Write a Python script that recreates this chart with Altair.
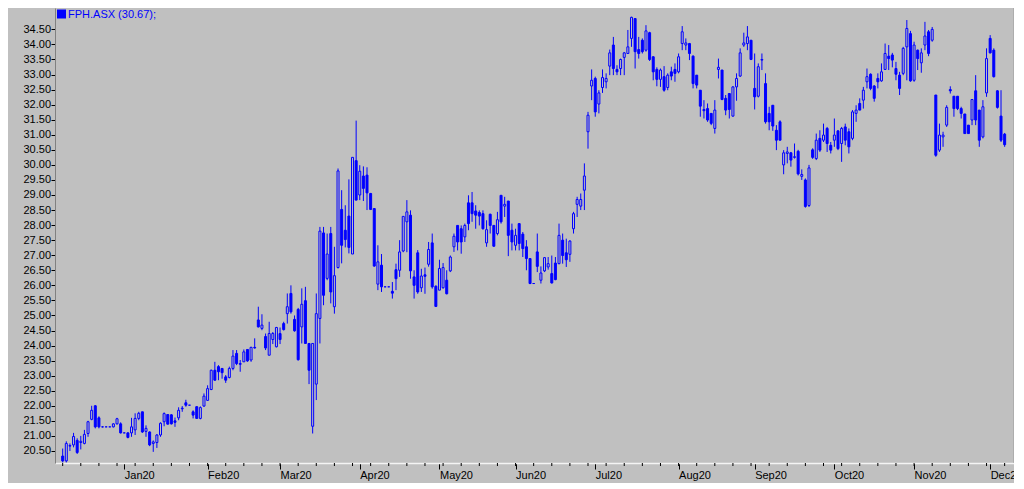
import altair as alt
import pandas as pd

# Daily OHLC (weekday index 0 = 9 Dec 2019)
opens = [
    20.33, 20.17, 20.66, 20.70, 20.85, 20.78, 20.75, 21.08, 21.55, 22.00,
    21.60, 21.30, 21.30, 21.30, 21.30, 21.40, 21.40, 21.10, 21.10, 21.10,
    21.20, 21.58, 21.80, 21.15, 21.13, 20.75, 20.78, 21.03, 21.47, 21.71,
    21.70, 21.50, 21.60, 21.90, 22.10, 22.02, 21.80, 21.97, 21.58, 21.99,
    22.18, 22.54, 23.18, 23.30, 23.24, 22.96, 22.94, 23.24, 23.74, 23.40,
    23.46, 23.87, 23.52, 23.94, 24.85, 24.57, 24.30, 23.68, 24.20, 23.96,
    24.40, 24.73, 25.06, 25.73, 24.87, 25.20, 24.62, 25.49, 24.07, 21.32,
    22.72, 24.90, 27.74, 26.23, 27.72, 25.29, 26.59, 28.52, 27.83, 28.30,
    27.04, 30.14, 29.00, 29.63, 29.66, 29.05, 28.55, 26.04, 26.67, 25.95,
    25.95, 25.80, 26.52, 26.50, 27.14, 28.11, 28.33, 26.28, 27.08, 25.92,
    26.35, 26.70, 27.41, 25.97, 25.84, 25.92, 26.17, 26.48, 27.28, 27.99,
    27.88, 27.61, 28.74, 28.74, 28.47, 28.42, 28.38, 27.41, 28.36, 27.99,
    27.72, 28.99, 28.63, 28.80, 27.83, 27.33, 28.05, 27.70, 27.28, 26.89,
    26.06, 27.11, 26.17, 26.48, 26.61, 26.39, 26.74, 26.72, 27.50, 27.08,
    27.03, 27.88, 28.69, 28.63, 29.16, 31.10, 32.62, 32.87, 32.02, 32.57,
    32.76, 33.28, 33.98, 33.17, 33.20, 33.57, 33.70, 34.20, 34.86, 33.83,
    34.14, 33.81, 34.39, 33.59, 33.17, 32.84, 32.93, 32.57, 33.09, 33.17,
    33.09, 34.03, 33.98, 34.03, 33.61, 32.98, 32.48, 31.84, 31.87, 31.71,
    31.21, 33.17, 33.15, 32.21, 32.37, 31.62, 32.59, 32.95, 33.98, 34.03,
    34.14, 32.54, 32.28, 33.48, 32.70, 31.71, 31.98, 31.15, 31.43, 30.00,
    30.38, 30.40, 30.25, 30.45, 29.62, 29.50, 28.65, 30.50, 30.21, 30.88,
    30.82, 31.21, 30.65, 30.82, 31.13, 30.71, 31.26, 31.10, 30.88, 31.71,
    32.04, 32.15, 32.76, 33.01, 32.62, 32.87, 32.79, 33.17, 33.61, 33.65,
    33.20, 32.98, 33.04, 33.92, 34.36, 32.81, 33.81, 33.39, 33.98, 34.42,
    34.14, 32.32, 30.49, 30.93, 31.32, 32.50, 32.28, 32.28, 31.87, 31.69,
    31.32, 31.49, 32.46, 31.82, 30.93, 32.39, 34.20, 33.81, 32.46, 31.62,
    31.02,
]
highs = [
    20.58, 20.82, 20.75, 21.10, 20.92, 21.00, 21.20, 21.50, 22.00, 22.02,
    21.65, 21.32, 21.30, 21.30, 21.42, 21.60, 21.45, 21.10, 21.12, 21.60,
    21.75, 21.80, 21.80, 21.35, 21.15, 20.85, 21.06, 21.45, 21.78, 21.72,
    21.72, 21.61, 21.95, 21.99, 22.20, 22.02, 21.85, 21.98, 21.98, 22.41,
    22.68, 23.20, 23.46, 23.35, 23.25, 23.02, 23.30, 23.85, 23.85, 23.52,
    23.87, 23.87, 23.96, 24.24, 25.29, 25.04, 24.40, 24.79, 24.45, 24.62,
    24.60, 24.79, 25.73, 26.00, 25.00, 25.25, 25.90, 25.95, 24.07, 24.07,
    25.73, 27.94, 27.94, 27.72, 27.94, 27.28, 29.88, 29.16, 28.66, 29.52,
    30.25, 31.47, 29.99, 29.95, 29.92, 29.07, 28.55, 27.33, 27.04, 25.95,
    25.95, 26.11, 26.72, 27.50, 28.29, 28.83, 28.49, 26.50, 27.17, 26.55,
    26.59, 27.44, 27.72, 26.00, 26.85, 26.74, 26.50, 26.99, 27.72, 27.99,
    27.99, 28.05, 28.99, 29.10, 28.66, 28.49, 28.49, 28.16, 28.38, 27.99,
    28.44, 28.99, 28.94, 28.80, 28.05, 27.88, 28.05, 27.77, 27.50, 26.89,
    26.06, 27.72, 26.63, 26.94, 26.94, 26.99, 26.94, 28.05, 27.72, 27.55,
    27.50, 28.44, 28.94, 29.05, 30.05, 31.76, 33.17, 32.93, 32.48, 33.17,
    33.04, 33.83, 34.25, 33.31, 33.53, 33.75, 34.48, 34.92, 34.86, 34.25,
    34.20, 34.64, 34.42, 33.61, 33.24, 33.20, 33.28, 33.04, 33.26, 33.37,
    33.70, 34.61, 34.20, 34.05, 33.64, 32.98, 32.48, 32.15, 32.04, 31.71,
    32.15, 33.53, 33.15, 32.32, 32.37, 32.61, 33.04, 33.87, 34.39, 34.61,
    34.14, 33.70, 33.37, 33.70, 33.04, 31.93, 31.98, 31.32, 31.48, 30.49,
    30.60, 30.43, 30.71, 30.50, 29.85, 29.55, 30.00, 30.55, 31.04, 31.15,
    31.37, 31.26, 30.76, 31.54, 31.15, 31.26, 31.37, 31.21, 31.82, 31.98,
    32.21, 32.59, 33.20, 33.04, 32.65, 33.04, 33.37, 34.03, 33.98, 33.72,
    33.42, 33.09, 33.92, 34.81, 34.45, 34.09, 33.83, 33.87, 34.75, 34.48,
    34.58, 32.32, 31.37, 31.10, 31.98, 32.61, 32.28, 32.28, 31.93, 31.69,
    31.32, 32.17, 32.98, 31.82, 32.15, 33.87, 34.31, 33.87, 32.48, 32.48,
    31.06,
]
lows = [
    20.12, 20.12, 20.50, 20.62, 20.40, 20.55, 20.72, 20.97, 21.52, 21.25,
    21.25, 21.28, 21.30, 21.30, 21.28, 21.38, 21.08, 21.10, 20.92, 20.97,
    21.03, 21.52, 21.10, 20.97, 20.66, 20.47, 20.60, 20.97, 21.32, 21.38,
    21.38, 21.30, 21.52, 21.80, 21.97, 22.02, 21.58, 21.58, 21.55, 21.97,
    22.16, 22.52, 22.83, 22.85, 22.90, 22.76, 22.91, 23.18, 23.35, 23.13,
    23.46, 23.46, 23.46, 23.90, 24.60, 24.51, 23.85, 23.68, 24.05, 23.94,
    24.05, 24.50, 24.73, 25.06, 24.46, 23.50, 24.07, 24.07, 22.72, 21.08,
    22.19, 24.07, 25.34, 26.17, 25.40, 25.06, 26.56, 26.73, 27.26, 27.06,
    27.04, 28.83, 28.83, 28.80, 28.50, 28.50, 26.62, 25.84, 25.78, 25.95,
    25.95, 25.56, 25.84, 26.28, 27.10, 27.10, 26.22, 25.56, 25.72, 25.78,
    25.72, 26.62, 25.89, 25.28, 25.84, 25.89, 25.70, 26.44, 27.11, 27.16,
    27.05, 27.44, 27.83, 28.11, 27.88, 27.99, 27.85, 27.28, 27.72, 27.28,
    27.66, 28.05, 28.27, 26.97, 27.16, 27.16, 27.16, 26.94, 26.50, 26.04,
    26.06, 26.44, 26.06, 26.44, 26.52, 26.06, 26.17, 26.70, 26.72, 26.61,
    26.78, 27.72, 28.27, 28.50, 28.50, 30.54, 32.15, 31.60, 31.71, 32.39,
    32.54, 32.98, 32.98, 32.98, 32.98, 32.98, 33.70, 33.92, 33.20, 33.53,
    33.70, 33.76, 33.45, 32.81, 32.61, 32.59, 32.43, 32.48, 32.81, 32.76,
    33.04, 33.81, 33.81, 33.48, 32.54, 32.54, 31.60, 31.54, 31.43, 31.32,
    31.04, 32.87, 32.15, 31.65, 31.54, 31.60, 32.13, 32.92, 33.92, 33.81,
    33.48, 31.84, 32.24, 33.15, 31.37, 31.15, 31.13, 30.49, 30.82, 29.69,
    30.05, 29.94, 30.21, 29.65, 29.50, 28.58, 28.60, 30.20, 30.16, 30.43,
    30.76, 30.43, 30.38, 30.60, 30.49, 30.10, 30.65, 30.38, 30.82, 31.43,
    31.82, 31.87, 32.54, 32.48, 32.10, 32.54, 32.76, 33.15, 33.15, 33.24,
    32.81, 32.32, 32.98, 32.81, 32.76, 32.76, 33.15, 33.06, 33.81, 33.61,
    34.09, 30.27, 30.43, 30.60, 31.26, 32.37, 31.60, 31.82, 31.54, 31.04,
    31.04, 31.32, 31.32, 30.60, 30.88, 32.26, 33.70, 32.90, 31.87, 30.76,
    30.60,
]
closes = [
    20.17, 20.75, 20.68, 20.98, 20.45, 20.82, 21.05, 21.47, 21.85, 21.30,
    21.30, 21.30, 21.30, 21.30, 21.40, 21.57, 21.10, 21.10, 20.95, 21.30,
    21.58, 21.75, 21.13, 21.25, 20.70, 20.80, 21.03, 21.42, 21.74, 21.39,
    21.40, 21.45, 21.85, 21.92, 22.02, 22.02, 21.69, 21.58, 21.94, 22.32,
    22.57, 23.18, 22.85, 23.13, 23.10, 22.85, 23.24, 23.65, 23.40, 23.38,
    23.79, 23.49, 23.94, 23.92, 24.62, 24.68, 23.92, 24.40, 24.40, 24.60,
    24.20, 24.53, 25.29, 25.12, 24.49, 23.53, 25.37, 24.07, 23.18, 24.07,
    25.06, 27.80, 25.67, 27.04, 25.78, 26.32, 29.80, 27.33, 27.52, 27.26,
    30.25, 28.83, 29.79, 29.22, 29.07, 28.52, 26.64, 26.78, 25.95, 25.95,
    25.95, 25.74, 26.22, 27.11, 28.29, 28.44, 26.48, 26.00, 25.78, 26.31,
    26.30, 27.19, 25.95, 25.30, 26.56, 26.59, 25.72, 26.94, 27.63, 27.44,
    27.44, 27.99, 28.05, 28.38, 28.33, 28.30, 27.88, 27.85, 27.99, 27.30,
    28.18, 28.11, 28.69, 27.66, 27.44, 27.66, 27.39, 27.22, 26.89, 26.06,
    26.06, 26.63, 26.41, 26.92, 26.72, 26.08, 26.19, 27.66, 26.99, 26.85,
    27.47, 28.38, 28.85, 28.85, 29.63, 31.65, 32.81, 31.76, 32.39, 32.90,
    32.87, 33.72, 33.20, 33.09, 33.50, 33.72, 33.92, 34.90, 33.76, 33.70,
    33.76, 34.45, 33.50, 33.09, 32.84, 33.15, 32.48, 32.98, 32.95, 33.04,
    33.59, 34.42, 34.05, 33.70, 32.70, 32.65, 31.95, 31.80, 31.49, 31.38,
    31.82, 33.24, 32.17, 31.82, 31.84, 32.59, 32.87, 33.72, 34.05, 34.25,
    33.50, 32.26, 33.26, 33.50, 31.43, 31.43, 31.29, 30.82, 30.82, 30.40,
    30.43, 30.16, 30.27, 29.70, 29.68, 28.62, 29.90, 30.25, 30.82, 30.49,
    30.99, 30.71, 30.49, 30.99, 30.54, 31.21, 30.82, 30.60, 31.76, 31.82,
    31.82, 32.48, 32.93, 32.54, 32.21, 32.76, 33.09, 33.70, 33.53, 33.48,
    33.01, 32.54, 33.87, 34.53, 32.79, 33.98, 33.53, 33.72, 34.28, 33.70,
    34.50, 30.32, 30.99, 30.99, 31.91, 32.46, 31.87, 31.87, 31.71, 31.04,
    31.04, 32.17, 31.49, 30.82, 31.93, 33.53, 33.72, 32.93, 31.91, 30.82,
    30.67,
]

month_labels = ["Jan20", "Feb20", "Mar20", "Apr20", "May20", "Jun20",
                "Jul20", "Aug20", "Sep20", "Oct20", "Nov20", "Dec20"]
month_idx = [17, 40, 60, 82, 104, 125, 147, 170, 191, 213, 235, 256]
y_ticks = [20.5, 21.0, 21.5, 22.0, 22.5, 23.0, 23.5, 24.0, 24.5, 25.0,
           25.5, 26.0, 26.5, 27.0, 27.5, 28.0, 28.5, 29.0, 29.5, 30.0,
           30.5, 31.0, 31.5, 32.0, 32.5, 33.0, 33.5, 34.0, 34.5]
legend_text = "FPH.ASX (30.67);"

n = len(closes)
df = pd.DataFrame({"idx": list(range(n)), "open": opens, "high": highs,
                   "low": lows, "close": closes})
minor_df = pd.DataFrame({"idx": list(range(0, n, 5))})

BLUE = "#0000ff"
BG = "#c0c0c0"
FONT = "Liberation Sans"

label_expr = ("[" + ",".join("'%s'" % m for m in month_labels) + "][indexof(["
              + ",".join(str(v) for v in month_idx) + "], datum.value)]")

xscale = alt.Scale(domain=[-0.74, 261.2], nice=False, zero=False)
yscale = alt.Scale(domain=[20.10, 35.21], nice=False, zero=False)

xaxis = alt.Axis(values=month_idx, labelExpr=label_expr, grid=False,
                 domainColor="#f4f4f4", domainWidth=1.5, tickColor="#000000",
                 tickSize=6, labelAlign="left", labelBaseline="top",
                 labelPadding=0, labelFlush=False, labelOverlap=False,
                 labelFont=FONT, labelFontSize=11, labelColor="#000000",
                 title=None)
yaxis = alt.Axis(values=y_ticks, format=".2f", grid=False,
                 domainColor="#808080", tickColor="#000000", tickSize=4,
                 labelPadding=0.5, labelFont=FONT, labelFontSize=11,
                 labelColor="#000000", labelOverlap=False, title=None)

X = alt.X("idx:Q", scale=xscale, axis=xaxis)

wick = alt.Chart(df).mark_rule(color=BLUE, strokeWidth=1).encode(
    x=X, y=alt.Y("low:Q", scale=yscale, axis=yaxis), y2="high:Q")

body = alt.Chart(df).mark_bar(size=2, stroke=BLUE, strokeWidth=1).encode(
    x=X, y=alt.Y("open:Q", scale=yscale, axis=yaxis), y2="close:Q",
    fill=alt.condition("datum.close < datum.open", alt.value(BLUE), alt.value(BG)))

minor = alt.Chart(minor_df).mark_rule(color="#000000").encode(
    x=X, y=alt.value(455), y2=alt.value(458))

frame_df = pd.DataFrame({"k": [0]})
right_border = alt.Chart(frame_df).mark_rule(color="#9a9a9a").encode(
    x=alt.value(959), y=alt.value(0), y2=alt.value(455))

leg_df = pd.DataFrame({"label": [legend_text]})
sq = alt.Chart(leg_df).mark_square(color=BLUE, size=81, opacity=1, filled=True).encode(
    x=alt.value(6.5), y=alt.value(6))
txt = alt.Chart(leg_df).mark_text(align="left", baseline="middle", font=FONT,
                                  fontSize=11, color=BLUE).encode(
    x=alt.value(13), y=alt.value(7), text="label:N")

chart = alt.layer(wick, body, minor, right_border, sq, txt).properties(
    width=959, height=455,
    autosize=alt.AutoSizeParams(type="none"),
    padding={"left": 47, "top": 0, "right": 0, "bottom": 20},
).configure(background=BG).configure_view(stroke=None)

chart.save("out.html", embed_options={"renderer": "svg", "actions": False})
